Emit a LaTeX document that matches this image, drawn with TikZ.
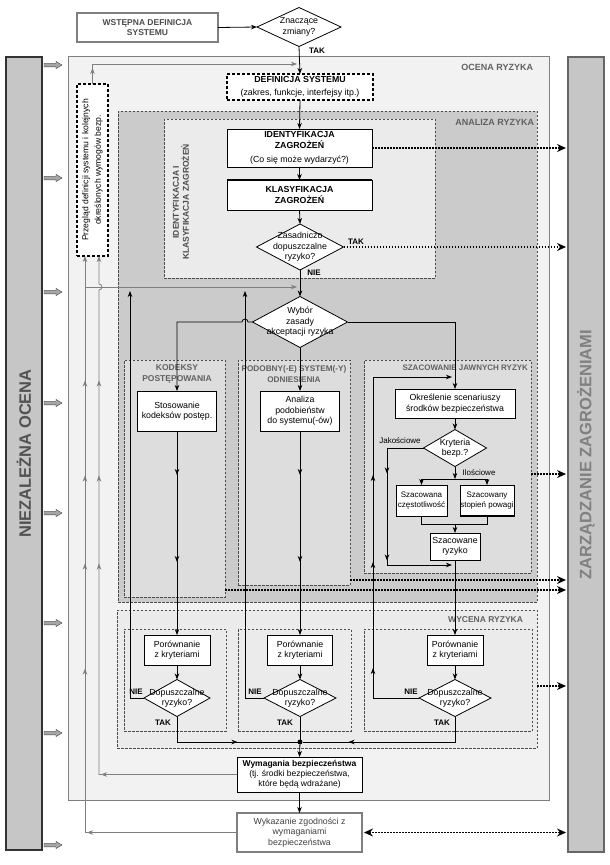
\documentclass[tikz,border=0pt]{standalone}
\usepackage{fontspec}
\setmainfont{Liberation Sans}
\usetikzlibrary{arrows.meta,shapes.geometric,decorations.markings}
\definecolor{ocfill}{HTML}{F2F2F2}
\definecolor{anfill}{HTML}{CBCBCB}
\definecolor{idfill}{HTML}{EBEBEB}
\definecolor{subfill}{HTML}{DDDDDD}
\definecolor{barfill}{HTML}{C6C6C6}
\definecolor{linegray}{HTML}{7F7F7F}
\begin{document}
\begin{tikzpicture}[x=1pt,y=-1pt,
  >={Stealth[length=6pt,width=4.5pt,inset=1.8pt]},
  font=\fontsize{8.8}{10.5}\selectfont,
  every node/.style={inner sep=0pt, outer sep=0pt},
  box/.style={draw, line width=0.9pt, fill=white, align=center},
  region/.style={draw=black!70, dash pattern=on 2.5pt off 1.5pt, line width=0.5pt},
  dia/.style={draw, diamond, line width=0.8pt, fill=white},
  lab/.style={font=\fontsize{8.5}{10}\selectfont\bfseries, text=black!62, align=center},
  yn/.style={font=\fontsize{8}{9}\selectfont\bfseries},
  arr/.style={->, line width=0.8pt},
  garr/.style={->, draw=linegray, line width=0.8pt},
  marr/.style={postaction={decorate,decoration={markings,mark=at position #1 with {\arrow{>}}}}},
  gmarr/.style={postaction={decorate,decoration={markings,mark=at position #1 with {\arrow[linegray]{>}}}}},
  dotarr/.style={line width=1.7pt, dash pattern=on 1.7pt off 1.3pt, shorten >=2pt, -{Stealth[length=9pt,width=8pt,inset=3pt]}},
  blockarr/.style={fill=black!35, draw=black!75, line width=0.4pt}
]
\useasboundingbox (0,0) rectangle (610,865);
\fill[white] (0,0) rectangle (610,865);

% side bars
\node[draw=black!80, line width=1.2pt, fill=barfill, minimum width=36pt, minimum height=793pt] (niez) at (24,453.5) {};
\node[rotate=90, font=\fontsize{16.5}{18}\selectfont\bfseries, text=black!68] at (niez) {NIEZALEŻNA OCENA};
\node[draw=black!60, line width=1.2pt, fill=barfill, minimum width=36pt, minimum height=795pt] (zar) at (586,454.5) {};
\node[rotate=90, font=\fontsize{16.5}{18}\selectfont\bfseries, text=black!50] at (zar) {ZARZĄDZANIE ZAGROŻENIAMI};
\foreach \yy in {65,178,292,403,513,623,733,845}
  \draw[blockarr] (44,\yy-1.8) -- (56,\yy-1.8) -- (56,\yy-3.6) -- (62,\yy) -- (56,\yy+3.6) -- (56,\yy+1.8) -- (44,\yy+1.8) -- cycle;

% top
\node[draw=linegray, line width=1.3pt, fill=white, minimum width=141pt, minimum height=29pt, align=center, font=\fontsize{8.5}{10.5}\selectfont\bfseries, text=black!70] (wst) at (147.5,27.5) {WSTĘPNA DEFINICJA\\SYSTEMU};
\node[dia, minimum width=84pt, minimum height=39pt] (zn) at (299,27) {};
\node[align=center] at (zn) {Znaczące\\zmiany?};

% ocena ryzyka
\node[draw=linegray, line width=0.8pt, fill=ocfill, minimum width=481pt, minimum height=744pt] (ocena) at (308.5,428) {};
\node[lab, anchor=east, font=\fontsize{9}{10}\selectfont\bfseries] at (533,67) {OCENA RYZYKA};
\node[box, dash pattern=on 3pt off 2pt, line width=1.3pt, minimum width=146pt, minimum height=26pt] (def) at (300,87) {\textbf{DEFINICJA SYSTEMU}\\[2pt](zakres, funkcje, interfejsy itp.)};
\node[box, dash pattern=on 3pt off 2pt, line width=1.2pt, minimum width=31pt, minimum height=172pt] (przeg) at (92.5,170) {};
\node[rotate=90, align=center, font=\fontsize{8.6}{12.5}\selectfont] at (przeg) {Przegląd definicji systemu i kolejnych\\określonych wymogów bezp.};

% analiza ryzyka
\node[region, fill=anfill, minimum width=419pt, minimum height=491pt] (analiza) at (327.5,356.5) {};
\node[lab, anchor=east, font=\fontsize{9}{10}\selectfont\bfseries] at (534,122) {ANALIZA RYZYKA};
\node[region, fill=idfill, minimum width=271pt, minimum height=159pt] (idreg) at (299.5,198.5) {};
\node[lab, rotate=90, text=black!70] at (181,202) {IDENTYFIKACJA I\\KLASYFIKACJA ZAGROŻEŃ};
\node[box, minimum width=145pt, minimum height=38pt] (idz) at (299.5,148) {\textbf{IDENTYFIKACJA}\\\textbf{ZAGROŻEŃ}\\[4pt](Co się może wydarzyć?)};
\node[box, minimum width=145pt, minimum height=30pt, font=\fontsize{8.8}{10.5}\selectfont\bfseries] (klas) at (299.5,195) {KLASYFIKACJA\\ZAGROŻEŃ};
\draw[line width=2pt] (klas.north west) -- (klas.north east);
\node[dia, minimum width=87pt, minimum height=46pt] (zas) at (300,247) {};
\node[align=center] at (zas) {Zasadniczo\\dopuszczalne\\ryzyko?};
\node[yn] at (356,242) {TAK};
\node[yn] at (314,273) {NIE};
\node[dia, minimum width=95pt, minimum height=51pt] (wyb) at (300,322) {};
\node[align=center] at (wyb) {Wybór\\zasady\\akceptacji ryzyka};

% three approaches
\node[region, fill=subfill, minimum width=101pt, minimum height=237pt] (kod) at (174.5,478.5) {};
\node[region, fill=subfill, minimum width=112pt, minimum height=225pt] (pod) at (294,472.5) {};
\node[region, fill=subfill, minimum width=167pt, minimum height=213pt] (sza) at (447.5,466.5) {};
\node[lab, font=\fontsize{8.5}{11.5}\selectfont\bfseries] at (177,374) {KODEKSY\\POSTĘPOWANIA};
\node[lab, font=\fontsize{8.2}{11.5}\selectfont\bfseries] at (294,374) {PODOBNY(-E) SYSTEM(-Y)\\ODNIESIENIA};
\node[lab, font=\fontsize{8}{10}\selectfont\bfseries, anchor=east] at (528,368) {SZACOWANIE JAWNYCH RYZYK};
\node[box, minimum width=79pt, minimum height=40pt] (stos) at (177,411) {Stosowanie\\kodeksów postęp.};
\node[box, minimum width=79pt, minimum height=40pt] (anal) at (300,411) {Analiza\\podobieństw\\do systemu(-ów)};
\node[box, minimum width=120pt, minimum height=29pt] (okr) at (455,403.5) {Określenie scenariuszy\\środków bezpieczeństwa};
\node[dia, minimum width=63pt, minimum height=37pt] (kry) at (455,448) {};
\node[align=center] at (kry) {Kryteria\\bezp.?};
\node[font=\fontsize{8}{9}\selectfont] at (400,441) {Jakościowe};
\node[font=\fontsize{8}{9}\selectfont] at (479,473) {Ilościowe};
\node[box, minimum width=51pt, minimum height=31pt, font=\fontsize{8}{10}\selectfont] (czest) at (421.5,500.5) {Szacowana\\częstotliwość};
\node[box, minimum width=54pt, minimum height=31pt, font=\fontsize{8}{10}\selectfont] (pow) at (487,500.5) {Szacowany\\stopień powagi};
\draw[line width=2pt] (pow.south west) -- (pow.south east);
\node[box, minimum width=50pt, minimum height=27pt] (ryz) at (455,546.5) {Szacowane\\ryzyko};

% wycena ryzyka
\node[region, fill=idfill, minimum width=420pt, minimum height=138pt] (wyc) at (327,679) {};
\node[lab, anchor=east] at (523,620) {WYCENA RYZYKA};
\node[region, minimum width=102pt, minimum height=102pt] (w1) at (175,680) {};
\node[region, minimum width=113pt, minimum height=102pt] (w2) at (294.5,680) {};
\node[region, minimum width=168pt, minimum height=102pt] (w3) at (448,680) {};
\node[box, minimum width=66pt, minimum height=30pt] (por1) at (177,650) {Porównanie\\z kryteriami};
\node[box, minimum width=65pt, minimum height=30pt] (por2) at (300,650) {Porównanie\\z kryteriami};
\node[box, minimum width=56pt, minimum height=30pt] (por3) at (455,650) {Porównanie\\z kryteriami};
\node[dia, minimum width=66pt, minimum height=37pt] (dop1) at (177,698) {};
\node[dia, minimum width=72pt, minimum height=37pt] (dop2) at (300,698) {};
\node[dia, minimum width=72pt, minimum height=37pt] (dop3) at (455,698) {};
\node[align=center] at (dop1) {Dopuszczalne\\ryzyko?};
\node[align=center] at (dop2) {Dopuszczalne\\ryzyko?};
\node[align=center] at (dop3) {Dopuszczalne\\ryzyko?};
\node[yn] at (136,692) {NIE};
\node[yn] at (255,692) {NIE};
\node[yn] at (411,692) {NIE};
\node[yn] at (163,723) {TAK};
\node[yn] at (285,723) {TAK};
\node[yn] at (442,723) {TAK};
\node[circle, fill, minimum size=5pt] (jd) at (300,742) {};
\node[box, minimum width=125pt, minimum height=35pt, font=\fontsize{8.5}{10}\selectfont] (wym) at (299.5,774.5) {\textbf{Wymagania bezpieczeństwa}\\(tj. środki bezpieczeństwa,\\które będą wdrażane)};
\node[box, draw=linegray, line width=1.3pt, minimum width=125pt, minimum height=39pt, text=black!75] (wyk) at (299.5,832.5) {Wykazanie zgodności z\\wymaganiami\\bezpieczeństwa};

% coordinates
\coordinate (g0) at (297,64);
\coordinate (g1) at (85,287);
\coordinate (g2) at (297,287);
\coordinate (p85) at (85,256);
\coordinate (p99) at (99,256);
\coordinate (c85) at (85,832.5);
\coordinate (c99) at (99,774.5);
\coordinate (n1) at (130,291);
\coordinate (n2) at (245,291);
\coordinate (n3) at (452,377);
\coordinate (jq) at (452,565);
\coordinate (sp) at (455,479);
\coordinate (jn) at (455,524);
\coordinate (s1) at ([yshift=-7.5pt]sza.east);
\coordinate (pd1) at ([yshift=-107.5pt]pod.east);
\coordinate (kd1) at ([yshift=-111.5pt]kod.east);
\coordinate (wc1) at ([yshift=-7pt]wyc.east);

% connectors
\draw[arr] (wst.east) -- (zn.west);
\draw[arr] (zn.south) -- (def.north);
\node[yn] at (317,51) {TAK};
\draw[garr, gmarr=16pt] (przeg.north) |- (g0);
\draw[arr] (def.south) -- (idz.north);
\draw[arr] (idz.south) -- (klas.north);
\draw[arr] (klas.south) -- (zas.north);
\draw[arr] (zas.south) -- (wyb.north);

\draw[garr, gmarr=150pt, gmarr=316pt, gmarr=421pt, gmarr=509pt, gmarr=604pt] (wyk.west) -- (c85) -- (p85);
\draw[garr, gmarr=136pt, gmarr=349pt, gmarr=437pt, gmarr=532pt] (wym.west) -- (c99) -- (99,290) arc[start angle=90, end angle=-90, radius=3] -- (p99);
\draw[garr] (g1) -- (g2);

\draw[arr] (dop1.west) -| (n1);
\draw[arr] (dop2.west) -| (n2);
\draw[arr, marr=76pt, marr=182pt, marr=269pt] (dop3.west) -- (373,698) -- (373,377) -- (n3);

\draw[arr] (wyb.west) -- (248,322) arc[start angle=0, end angle=-180, radius=3] -- (177,322) -- (stos.north);
\draw[arr] (wyb.south) -- (anal.north);
\draw[arr] (wyb.east) -| (okr.north);

\draw[arr, marr=44pt, marr=131pt] (stos.south) -- (por1.north);
\draw[arr, marr=44pt, marr=131pt] (anal.south) -- (por2.north);
\draw[arr] (okr.south) -- (kry.north);
\draw[arr, marr=62pt, marr=149pt] (kry.west) -- (387,448) -- (387,565) -- (jq);
\draw[arr] (kry.south) -- (sp);
\draw[arr] (sp) -| (czest.north);
\draw[arr] (sp) -| (pow.north);
\draw[line width=0.8pt] (czest.south) |- (jn);
\draw[line width=0.8pt] (pow.south) |- (jn);
\draw[arr] (jn) -- (ryz.north);
\draw[arr] (ryz.south) -- (por3.north);

\draw[arr] (por1.south) -- (dop1.north);
\draw[arr] (por2.south) -- (dop2.north);
\draw[arr] (por3.south) -- (dop3.north);
\draw[line width=0.8pt, marr=86pt] (dop1.south) |- (jd);
\draw[line width=0.8pt, marr=132pt] (dop3.south) |- (jd);
\draw[line width=0.8pt] (dop2.south) -- (jd);
\draw[arr] (jd) -- (wym.north);
\draw[arr] (wym.south) -- (wyk.north);

% dotted links to hazard management
\draw[dotarr] (idz.east) -- (zar.west |- idz.east);
\draw[dotarr] (zas.east) -- (zar.west |- zas.east);
\draw[dotarr] (s1) -- (zar.west |- s1);
\draw[dotarr] (pd1) -- (zar.west |- pd1);
\draw[dotarr] (kd1) -- (zar.west |- kd1);
\draw[dotarr] (wc1) -- (zar.west |- wc1);
\draw[dotarr, shorten <=2pt, {Stealth[length=9pt,width=8pt,inset=3pt]}-{Stealth[length=9pt,width=8pt,inset=3pt]}] (wyk.east) -- (zar.west |- wyk.east);
\end{tikzpicture}
\end{document}
